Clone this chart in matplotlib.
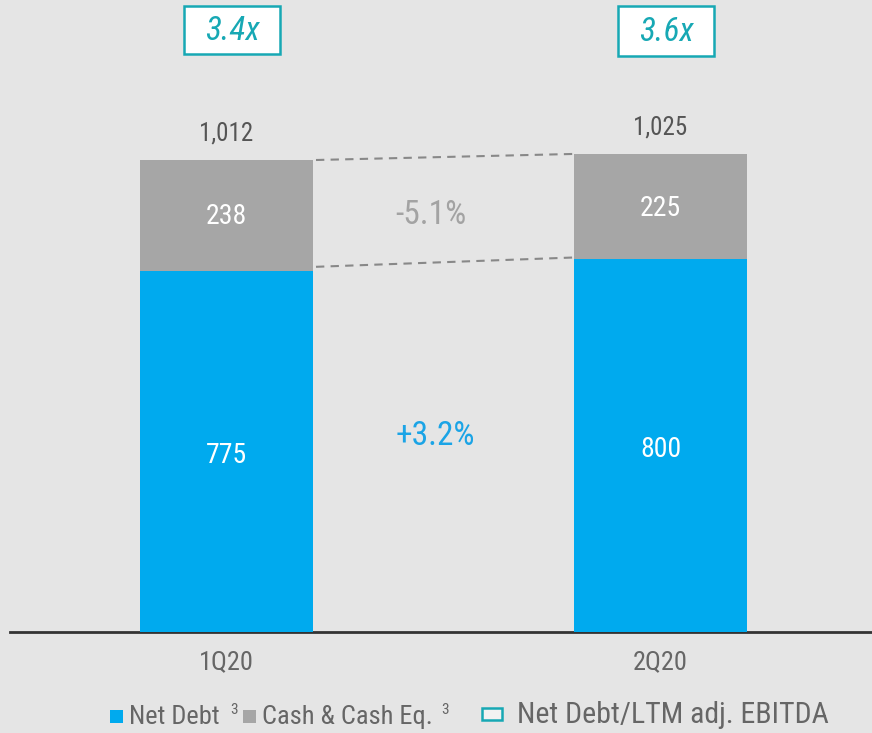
import matplotlib
matplotlib.use("Agg")
import matplotlib.pyplot as plt
from matplotlib.patches import Rectangle
from matplotlib import font_manager

# data
quarters = ["1Q20", "2Q20"]
net_debt = [775, 800]
cash = [238, 225]
totals = [1012, 1025]
leverage = ["3.4x", "3.6x"]
chg_cash = "-5.1%"
chg_debt = "+3.2%"

BLUE = "#00aaee"
GREY = "#a6a6a6"
TEAL = "#17a8b4"
BG = "#e5e5e5"

names = {f.name for f in font_manager.fontManager.ttflist}
fams = [f for f in ["Roboto Condensed", "Liberation Sans Narrow", "DejaVu Sans Condensed", "Roboto"] if f in names]
plt.rcParams["font.family"] = fams[:1] + ["DejaVu Sans"]

W, H = 872, 733
fig = plt.figure(figsize=(W / 100, H / 100), dpi=100, facecolor=BG)

def fx(x):
    return x / W

def fy(y):
    return 1 - y / H

base = 632
scale = 0.4664  # px per unit
ax = fig.add_axes([fx(10), fy(base), fx(W - 10), base / H])
ax.set_facecolor(BG)
ax.patch.set_alpha(0)
ax.set_ylim(0, base / scale)
ax.set_xlim(-(226.5 - 10) / 434, (W - 226.5) / 434)

x = [0, 1]
bw = 173 / 434
ax.bar(x, net_debt, width=bw, color=BLUE, zorder=3)
ax.bar(x, cash, width=bw, bottom=net_debt, color=GREY, zorder=3)

box_y = [1240, 1236]
box_h = [103, 107]
for i in x:
    ax.text(i, net_debt[i] / 2 - 8, str(net_debt[i]), ha="center", va="center",
            color="white", fontsize=20)
    ax.text(i, net_debt[i] + cash[i] / 2 - 4, str(cash[i]), ha="center", va="center",
            color="white", fontsize=20)
    ax.text(i, totals[i] + 57, f"{totals[i]:,}", ha="center", va="center",
            color="#555555", fontsize=18)
    ax.text(i, -65, quarters[i], ha="center", va="center", color="#666666", fontsize=19)
    # leverage box
    ax.add_patch(Rectangle((i - 0.098, box_y[i]), 0.221, box_h[i],
                           facecolor="white", edgecolor=TEAL, lw=1.8, clip_on=False, zorder=4))
    ax.text(i + 0.013, box_y[i] + box_h[i] / 2 - 2, leverage[i], ha="center", va="center",
            color=TEAL, fontsize=24, style="italic", zorder=5)

# dashed connectors
x0 = bw / 2 + 3 / 434
x1 = 1 - bw / 2
ax.plot([x0, x1], [totals[0], totals[1]], ls=(0, (4, 3)), color="#888888", lw=1.5)
ax.plot([x0, x1], [net_debt[0] + 8, net_debt[1] + 3], ls=(0, (4, 3)), color="#888888", lw=1.5)
ax.text(0.47, 895, chg_cash, ha="center", va="center", color="#a3a3a3", fontsize=24)
ax.text(0.48, 420, chg_debt, ha="center", va="center", color="#1ba4e6", fontsize=24)

ax.set_xticks([])
ax.set_yticks([])
for s in ["top", "left", "right"]:
    ax.spines[s].set_visible(False)
ax.spines["bottom"].set_color("#333333")
ax.spines["bottom"].set_linewidth(2)

# legend
fig.patches.append(Rectangle((fx(110), fy(723)), fx(13), 13 / H, transform=fig.transFigure,
                             facecolor=BLUE, edgecolor="none"))
fig.text(fx(129), fy(717), "Net Debt", color="#666666", fontsize=19, va="center")
fig.text(fx(230), fy(710), "3", color="#666666", fontsize=11, va="center")
fig.patches.append(Rectangle((fx(243), fy(723)), fx(13), 13 / H, transform=fig.transFigure,
                             facecolor=GREY, edgecolor="none"))
fig.text(fx(262), fy(717), "Cash & Cash Eq.", color="#666666", fontsize=19, va="center")
fig.text(fx(441), fy(710), "3", color="#666666", fontsize=11, va="center")
fig.patches.append(Rectangle((fx(482), fy(720)), fx(20), 12 / H, transform=fig.transFigure,
                             facecolor="#f2f2f2", edgecolor=TEAL, lw=1.8))
fig.text(fx(517), fy(715), "Net Debt/LTM adj. EBITDA", color="#666666", fontsize=21.5, va="center")

fig.savefig("out.png", dpi=100, facecolor=BG)
